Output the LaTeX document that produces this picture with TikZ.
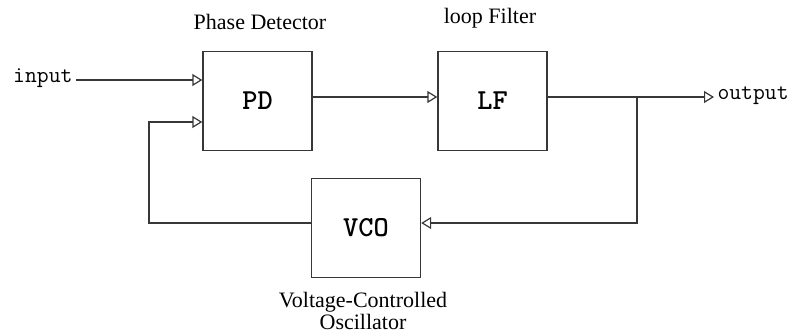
\documentclass[tikz,border=0pt]{standalone}
\usepackage{fontspec}
\setmainfont{Liberation Serif}
\usepackage{tikz}
\usetikzlibrary{arrows.meta,calc,positioning}
\definecolor{PLLLine}{RGB}{55,55,55}
\tikzset{
  pllbox/.style ={draw=PLLLine, line width=1.4pt, minimum width=109pt, minimum height=99pt,
                  inner sep=0pt, font=\fontsize{29}{32}\selectfont\ttfamily\bfseries},
  pllwire/.style={draw=PLLLine, line width=1.4pt},
  pllsig/.style ={pllwire, -{Triangle[open, length=10pt, width=12pt, line width=1.2pt]}},
  plltag/.style ={font=\fontsize{22}{22}\selectfont},
  pllport/.style={font=\fontsize{23}{25}\selectfont\ttfamily},
}

\begin{document}
\begin{tikzpicture}[
  x=1pt,y=-1pt,
  line cap=butt,
  line join=miter
]
\useasboundingbox (0,0) rectangle (797,335);

% --- Blocks --------------------------------------------------------------
\node[pllbox] (PD)  at (257.5,101) {PD};
\node[pllbox] (LF)  at (492.5,101) {LF};
\node[pllbox] (VCO) at (366,228)   {VCO};

% --- Block names ---------------------------------------------------------
\node[plltag] (PDtag) at (260,22) {Phase Detector};
\node[plltag] (LFtag) at (490,18) {loop Filter};
\node[plltag, align=center] (VCOtag) at (363,311) {Voltage-Controlled\\Oscillator};

% --- Ports ---------------------------------------------------------------
\node[pllport, anchor=mid east] (in)  at (76,80)  {input};
\node[pllport, anchor=mid west] (out) at (714,97) {output};

% --- Wire points ---------------------------------------------------------
\coordinate (jn)  at (637,97);
\coordinate (fbL) at (149,223);
\coordinate (fbT) at (149,122);

% --- Forward path --------------------------------------------------------
\draw[pllsig]  (in.mid east) -- (PD.west |- in.mid east);
\draw[pllsig]  (PD.east |- jn) -- (LF.west |- jn);
\draw[pllwire] (LF.east |- jn) -- (jn);
\draw[pllsig]  (jn) -- (out.mid west);

% --- Feedback path -------------------------------------------------------
\draw[pllsig] (jn) |- (VCO.east |- fbL);
\draw[pllsig] (VCO.west |- fbL) -- (fbL) |- (PD.west |- fbT);

\end{tikzpicture}
\end{document}
